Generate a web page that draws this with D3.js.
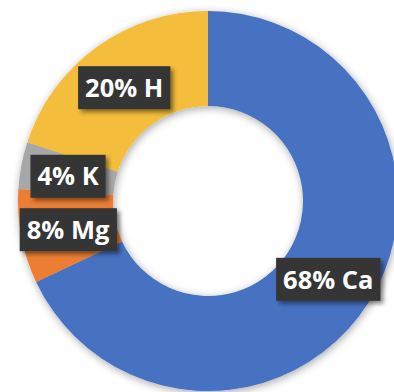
<!DOCTYPE html>
<html>
<head>
<meta charset="utf-8">
<script src="https://cdn.jsdelivr.net/npm/d3@7"></script>
<style>
  html, body { margin: 0; padding: 0; background: #fff; }
  svg { display: block; }
</style>
</head>
<body>
<div id="chart"></div>
<script>
// data
var elements = ["Ca", "Mg", "K", "H"];
var shares = [68, 8, 4, 20];
var colors = ["#4672C2", "#EC7D30", "#A7A7A7", "#F4BD3B"];

var width = 394, height = 392;
var cx = 208, cy = 201, outerR = 190, innerR = 95;

var svg = d3.select("#chart").append("svg")
  .attr("width", width)
  .attr("height", height);

var defs = svg.append("defs");

// soft glow around the ring
var f1 = defs.append("filter").attr("id", "ringshadow")
  .attr("x", "-20%").attr("y", "-20%").attr("width", "140%").attr("height", "140%");
f1.append("feGaussianBlur").attr("in", "SourceAlpha").attr("stdDeviation", 4).attr("result", "b");
f1.append("feOffset").attr("in", "b").attr("dx", 1).attr("dy", 2).attr("result", "o");
f1.append("feComponentTransfer").attr("in", "o").attr("result", "s")
  .append("feFuncA").attr("type", "linear").attr("slope", 0.35);
var m1 = f1.append("feMerge");
m1.append("feMergeNode").attr("in", "s");
m1.append("feMergeNode").attr("in", "SourceGraphic");

// label box shadow
var f2 = defs.append("filter").attr("id", "boxshadow")
  .attr("x", "-20%").attr("y", "-30%").attr("width", "150%").attr("height", "170%");
f2.append("feGaussianBlur").attr("in", "SourceAlpha").attr("stdDeviation", 2).attr("result", "b");
f2.append("feOffset").attr("in", "b").attr("dx", 3).attr("dy", 3).attr("result", "o");
f2.append("feComponentTransfer").attr("in", "o").attr("result", "s")
  .append("feFuncA").attr("type", "linear").attr("slope", 0.45);
var m2 = f2.append("feMerge");
m2.append("feMergeNode").attr("in", "s");
m2.append("feMergeNode").attr("in", "SourceGraphic");

var data = elements.map(function(e, i) {
  return { name: e, value: shares[i], color: colors[i] };
});

var pie = d3.pie().sort(null).value(function(d) { return d.value; });
var arc = d3.arc().innerRadius(innerR).outerRadius(outerR);

var g = svg.append("g").attr("transform", "translate(" + cx + "," + cy + ")");

var ring = g.append("g").attr("filter", "url(#ringshadow)");
ring.selectAll("path")
  .data(pie(data))
  .enter().append("path")
  .attr("d", arc)
  .attr("fill", function(d) { return d.data.color; });

// labels sit on the arc centroids
var labels = g.selectAll(".lbl")
  .data(pie(data))
  .enter().append("g")
  .attr("class", "lbl")
  .attr("transform", function(d) {
    var c = arc.centroid(d);
    return "translate(" + c[0] + "," + (c[1] + 2) + ")";
  });

labels.append("rect").attr("fill", "#363636").attr("filter", "url(#boxshadow)");

labels.append("text")
  .attr("text-anchor", "middle")
  .attr("dy", "0.36em")
  .style("font-family", "'Open Sans', sans-serif")
  .style("font-weight", "700")
  .style("font-size", "25.5px")
  .attr("fill", "#fff")
  .text(function(d) { return d.data.value + "% " + d.data.name; });

labels.each(function() {
  var t = d3.select(this).select("text").node().getBBox();
  var padX = 7, h = 43;
  d3.select(this).select("rect")
    .attr("x", t.x - padX)
    .attr("y", -h / 2)
    .attr("width", t.width + padX * 2)
    .attr("height", h);
});
</script>
</body>
</html>
